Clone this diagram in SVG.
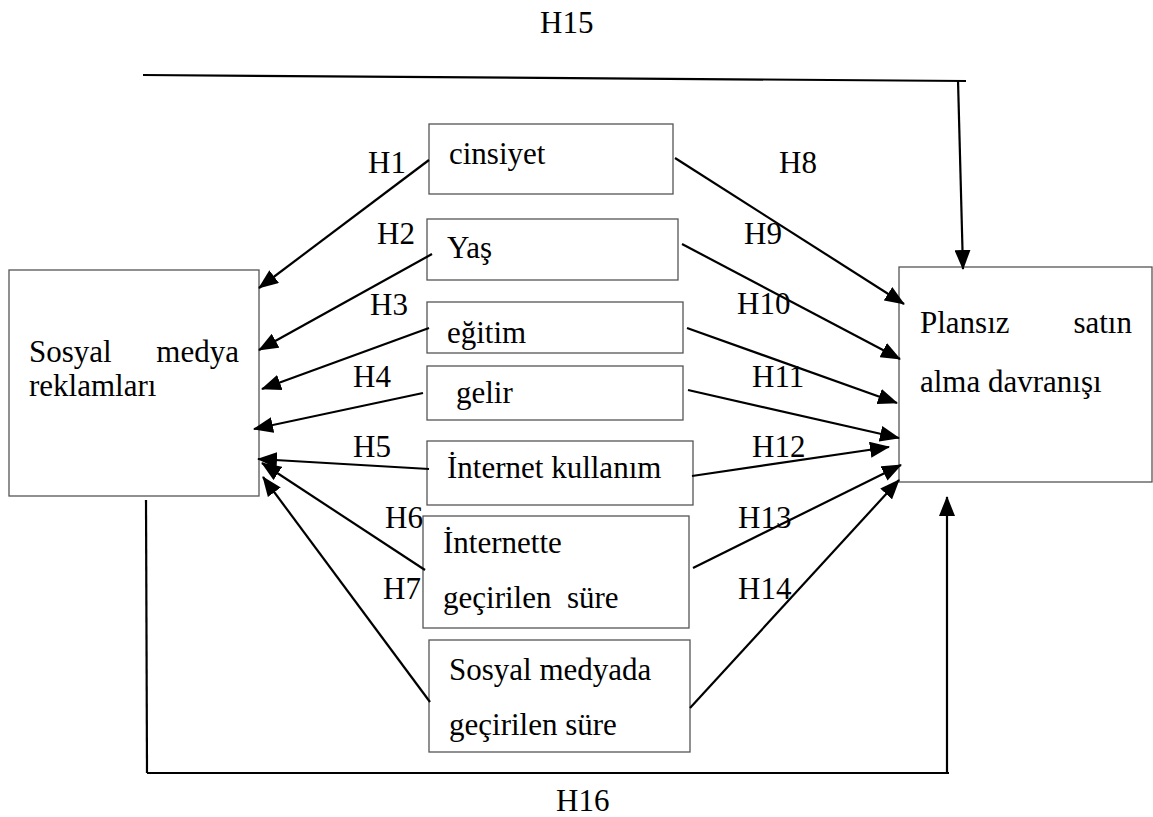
<svg xmlns="http://www.w3.org/2000/svg" width="1153" height="817" viewBox="0 0 1153 817">
<style>
.box{fill:#fff;stroke:#555;stroke-width:1.3}
.t{font-family:"Liberation Serif","Times New Roman",serif;font-size:31px;fill:#000}
.c{stroke:#000;stroke-width:2.2;fill:none}
.ca{stroke:#000;stroke-width:2.2;fill:none;marker-end:url(#ah)}
</style>
<defs>
<marker id="ah" viewBox="0 0 20 16" refX="19" refY="8" markerWidth="20" markerHeight="16" markerUnits="userSpaceOnUse" orient="auto">
<path d="M0,0 L20,8 L0,16 Z" fill="#000"/>
</marker>
</defs>
<rect width="1153" height="817" fill="#fff"/>
<g id="left">
<rect class="box" x="9" y="270" width="250" height="226"/>
<text class="t" x="29" y="362">Sosyal</text>
<text class="t" x="239" y="362" text-anchor="end">medya</text>
<text class="t" x="29" y="396">reklamları</text>
</g>
<g id="right">
<rect class="box" x="899" y="267" width="253" height="215"/>
<text class="t" x="920" y="333">Plansız</text>
<text class="t" x="1132" y="333" text-anchor="end">satın</text>
<text class="t" x="920" y="392">alma davranışı</text>
</g>
<g id="cinsiyet">
<rect class="box" x="429" y="124" width="244" height="70"/>
<text class="t" x="449" y="164">cinsiyet</text>
</g>
<g id="yas">
<rect class="box" x="427" y="219" width="251" height="61"/>
<text class="t" x="447" y="258">Yaş</text>
</g>
<g id="egitim">
<rect class="box" x="427" y="302" width="256" height="51"/>
<text class="t" x="447" y="343">eğitim</text>
</g>
<g id="gelir">
<rect class="box" x="427" y="366" width="256" height="54"/>
<text class="t" x="456" y="403">gelir</text>
</g>
<g id="internet">
<rect class="box" x="427" y="441" width="266" height="64"/>
<text class="t" x="447" y="478">İnternet kullanım</text>
</g>
<g id="internette">
<rect class="box" x="423" y="516" width="266" height="112"/>
<text class="t" x="443" y="553">İnternette</text>
<text class="t" x="443" y="608" xml:space="preserve">geçirilen  süre</text>
</g>
<g id="sosyalmedyada">
<rect class="box" x="429" y="640" width="261" height="112"/>
<text class="t" x="449" y="680">Sosyal medyada</text>
<text class="t" x="449" y="735">geçirilen süre</text>
</g>
<g id="connectors">
<line class="ca" x1="429" y1="160" x2="259" y2="288"/>
<line class="ca" x1="432" y1="254" x2="259" y2="350"/>
<line class="ca" x1="429" y1="328" x2="262" y2="389"/>
<line class="ca" x1="423" y1="393" x2="254" y2="429"/>
<line class="ca" x1="429" y1="469" x2="258" y2="459"/>
<line class="ca" x1="425" y1="570" x2="262" y2="463"/>
<line class="ca" x1="430" y1="702" x2="263" y2="477"/>
<line class="ca" x1="675" y1="158" x2="904" y2="304"/>
<line class="ca" x1="682" y1="244" x2="900" y2="359"/>
<line class="ca" x1="687" y1="328" x2="897" y2="403"/>
<line class="ca" x1="688" y1="390" x2="899" y2="438"/>
<line class="ca" x1="692" y1="476" x2="889" y2="447"/>
<line class="ca" x1="693" y1="568" x2="901" y2="465"/>
<line class="ca" x1="690" y1="708" x2="899" y2="480"/>
<line class="c" x1="143" y1="75" x2="966" y2="81"/>
<line class="ca" x1="958" y1="80" x2="963" y2="269"/>
<line class="c" x1="146" y1="500" x2="147" y2="773"/>
<line class="c" x1="147" y1="773" x2="949" y2="773"/>
<line class="ca" x1="947" y1="773" x2="947" y2="497"/>
</g>
<g id="labels">
<text class="t" x="540" y="33">H15</text>
<text class="t" x="556" y="811">H16</text>
<text class="t" x="368" y="173">H1</text>
<text class="t" x="377" y="244">H2</text>
<text class="t" x="370" y="315">H3</text>
<text class="t" x="353" y="387">H4</text>
<text class="t" x="353" y="457">H5</text>
<text class="t" x="385" y="528">H6</text>
<text class="t" x="383" y="599">H7</text>
<text class="t" x="779" y="173">H8</text>
<text class="t" x="744" y="244">H9</text>
<text class="t" x="737" y="314">H10</text>
<text class="t" x="752" y="387">H11</text>
<text class="t" x="752" y="457">H12</text>
<text class="t" x="738" y="528">H13</text>
<text class="t" x="738" y="599">H14</text>
</g>
</svg>
